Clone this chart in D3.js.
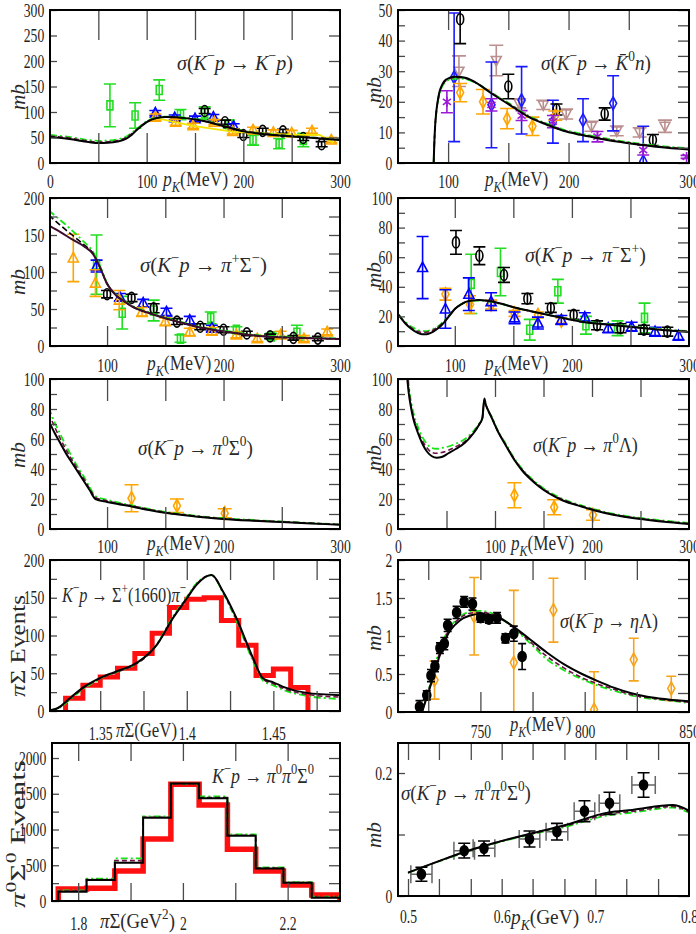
<!DOCTYPE html>
<html><head><meta charset="utf-8">
<script src="https://cdn.jsdelivr.net/npm/d3@7"></script>
<style>
body{margin:0;background:#fff}
svg{display:block}
</style></head><body>
<div id="graph"></div>
<script>
// ---------- data ----------
// panel 1: K-p -> K-p
const p1Black  = [[0,51],[20,47],[40,41],[50,39],[60,39.5],[70,42],[78,47],[85,56],[90,65],[95,73],[100,80],[110,88],[120,90],[140,88],[160,82],[180,72],[200,62],[220,57],[250,52],[280,48],[300,45]]
const p1Dashed = [[0,53],[20,49],[40,43],[50,41],[60,41.5],[70,44],[78,49],[85,58],[90,66],[95,74],[100,81],[110,88],[120,90],[140,88],[160,82],[180,73],[200,63],[220,58],[250,53],[280,49],[300,46]]
const p1Green  = [[0,55],[20,51],[40,45],[50,43.5],[60,44],[70,46.5],[78,51],[85,60],[90,68],[95,75],[100,82],[110,89],[120,91],[140,89],[160,83],[180,73],[200,63],[220,58],[250,53],[280,49],[300,46]]
const p1Yellow = [[110,88],[148,73],[190,61],[230,57],[259,55],[279,55],[293,40]]
const p1Sq     = [[62,113,42],[88,93,25],[113,143,20],[135,95,10],[160,98,12],[185,76,8],[210,45,10],[237,38,10],[262,45,13]]
const p1Tri    = [[109,98,5],[129,89,5],[150,87,5],[169,90,5],[190,72,5]]
const p1Circ   = [[160,102,5],[181,80,4],[200,55,5],[220,63,5],[241,62,4],[262,49,5],[281,37,5]]
const p1OrTri  = [[109,90,6],[130,80,6],[148,73,5],[170,80,5],[189,62,5],[210,65,5],[231,60,5],[250,59,5],[271,63,5],[291,45,5]]

// panel 2: K-p -> K0bar n
const p2Black  = [[88,0],[88.5,6],[89.2,12],[90,16],[91.5,20.5],[93,23.5],[95,25.5],[97,26.8],[101,27.8],[105,28.2],[110,28.1],[115,27.8],[125,25.8],[134,23.3],[151,19],[168,14.8],[182,12.5],[195,10.6],[210,9.2],[223,8.2],[240,7],[256,6.1],[275,5.2],[300,4.4]]
const p2Dashed = [[88,0],[88.5,6],[89.2,12],[90,16],[91.5,20.3],[93,23.2],[95,25.2],[97,26.5],[101,27.5],[105,27.9],[110,27.9],[115,27.6],[125,25.8],[134,23.4],[151,19.2],[168,15],[182,12.7],[195,10.8],[210,9.4],[223,8.4],[240,7.2],[256,6.3],[275,5.4],[300,4.6]]
const p2Green  = [[88,0],[88.5,5.5],[89.2,11.5],[90,15.5],[91.5,20],[93,23],[95,25],[97,26.2],[101,27.2],[105,27.5],[110,27.6],[115,27.4],[125,25.8],[134,23.5],[151,19.4],[168,15.2],[182,12.9],[195,11],[210,9.6],[223,8.6],[240,7.4],[256,6.5],[275,5.6],[300,4.8]]
const p2Circ   = [[110,47,8],[150,25,4],[190,17.5,1.8],[230,16,2],[270,7.5,1.8]]
const p2BlueDi = [[105,28,21],[136,19,14],[161,20.5,11],[187,13.5,7],[212,14,7],[237,19.5,9],[262,0.5,11.5]]
const p2OrDi   = [[110,23,3],[129,20,4],[149,14.5,3.3],[170,12,3],[189,15.5,1.5]]
const p2Star   = [[99,20,3.6],[136,19,2],[161,15.5,1.6],[187,13.5,2],[224,8.6,1.7],[262,4.2,1.6],[298,2,0.5]]
const p2DTri   = [[109,30,5],[140,33.5,5],[159,19.5,1.5],[179,19,1.5],[198,16,1.6],[219,12,1.6],[240,10.5,1.6],[259,10,1.5],[280,12,2]]

// panel 3: K-p -> pi+ Sigma-
const p3Solid  = [[50,163],[60,154],[70,144],[80,135],[88,124],[94,106],[100,84],[108,68],[115,60],[122,53],[137,44],[151,37],[165,31],[180,25],[195,21],[208,18],[222,15],[236,13],[255,11.5],[275,10.5],[300,9.5]]
const p3Dashed = [[50,177],[60,163],[70,150],[80,137],[88,125],[94,106],[100,84],[108,68],[115,60],[122,53],[137,44],[151,37],[165,31],[180,25],[195,21],[208,18],[222,15],[236,13],[255,11.5],[275,10.5],[300,9.5]]
const p3Green  = [[50,183],[60,170],[70,156],[80,141],[88,127],[94,108],[100,85],[108,69],[115,61],[122,54],[137,45],[151,38],[165,32],[180,26],[195,22],[208,19],[222,16],[236,14],[255,12.5],[275,11.2],[300,10.2]]
const p3OrTri  = [[71,119,32],[90,85,18],[110.5,62,13],[130,46,6],[150,33,5],[171,19,5],[190,20,5],[211,15,4],[229,10,4],[249,15,5],[269,10,4],[289,19,4]]
const p3Tri    = [[91,108,8],[111,66,5],[131,58,5],[151,46,5],[171,35,5],[190,24,4]]
const p3Circ   = [[100,70,5],[121,65,5],[140,51,6],[160,33,4],[180,26,4],[200,22,4],[220,17,3],[240,13,3],[260,11,3],[281,10,3]]
const p3Sq     = [[91,110,40],[113,45,22],[140,48,14],[163,10,5],[189,38,8],[211,22,4],[241,13,4],[263,18,10]]

// panel 4: K-p -> pi- Sigma+
const p4Black  = [[52,21],[58,15],[63,11.5],[68,9],[72,8],[76,8],[80,9],[84,11],[88,13.5],[92,17],[96,21],[100,25],[105,28],[110,30],[115,30.8],[120,31],[128,30.5],[140,28.5],[151,26],[165,23.5],[180,21],[195,18.5],[208,16.4],[230,14.5],[251,12.8],[275,11],[300,9.5]]
const p4Dashed = [[52,21],[58,15.5],[63,12.3],[68,10],[72,9.3],[76,9.3],[80,10.2],[84,12],[88,14.3],[92,17.6],[96,21.3],[100,25],[105,28],[110,30],[115,30.8],[120,31],[128,30.5],[140,28.5],[151,26],[165,23.5],[180,21],[195,18.5],[208,16.5],[230,14.6],[251,13],[275,11.2],[300,9.8]]
const p4Green  = [[52,21],[58,16],[63,13],[68,11],[72,10],[76,10],[80,11],[84,12.5],[88,14.8],[92,18],[96,21.5],[100,25],[105,28],[110,29.8],[115,30.5],[120,30.7],[128,30.2],[140,28.3],[151,26],[165,23.5],[180,21],[195,18.7],[208,16.8],[230,15],[251,13.3],[275,11.5],[300,10]]
const p4Tri    = [[72.5,53,21],[92,25,13],[112,35,11],[131,30,6],[151,19,4],[171,15.5,4],[191,17.6,3],[211,19.5,3],[231,12,3],[251,13,3],[271,9.7,3],[291,7,3]]
const p4Circ   = [[101,70,8],[121,61,6],[142,48,5],[162,32,3.5],[182,25.7,3],[201.5,21,3],[221.5,14,3],[241.5,12,3],[261.5,11,3],[281.5,9.7,3]]
const p4Sq     = [[114,42,20],[139,50,16],[164,11,7],[188,37,8],[212,14,6],[239,12,5],[262,19,10]]
const p4OrDi   = [[92,35,4],[113,28,6],[131,28,3],[151,22,2],[171,21,2],[191,17,2]]

// panel 5: K-p -> pi0 Sigma0
const p5Black  = [[50,72],[55,64],[60,57],[65,50],[70,44],[75,38],[80,32],[85,26],[90,20],[100,18],[110,16.5],[122,14.9],[136,12.6],[151,10.6],[165,9.3],[180,8],[199,6.7],[225,5.5],[250,4.6],[275,3.7],[300,2.8]]
const p5Dashed = [[50,77],[55,68],[60,60],[65,52.5],[70,46],[75,39.5],[80,33.5],[85,27],[90,21],[100,18.8],[110,17],[122,15.3],[136,13],[151,11],[165,9.6],[180,8.3],[199,7],[225,5.8],[250,4.8],[275,3.9],[300,3]]
const p5Green  = [[50,81],[55,71],[60,63],[65,55],[70,48],[75,41],[80,35],[85,28],[90,22],[100,19.5],[110,17.5],[122,15.7],[136,13.4],[151,11.3],[165,9.9],[180,8.5],[199,7.2],[225,6],[250,5],[275,4],[300,3.1]]
const p5OrDi   = [[121,20.5,9],[160,15.5,4.5],[201,10.5,3]]

// panel 6: K-p -> pi0 Lambda
const p6Black  = [[9.6,100],[11,91],[13.4,81],[16,73],[20,65],[25,57],[30,51.5],[35,48.5],[40,47.5],[45,48],[52,50.5],[60,53.5],[69,57.5],[78,64],[84,70],[87,74],[89,87],[90.5,83],[93,79],[96,75],[103,65],[110,57],[120,46],[128,39],[137,33],[146,28],[155,24],[170,19],[189,15],[205,12],[223,9.3],[240,7.5],[258,6],[280,4.5],[300,3.4]]
const p6Dashed = [[10,100],[11.5,91],[13.5,82],[16,74.5],[20,66.5],[25,59],[30,54],[35,51],[40,50.5],[45,51],[52,52.5],[60,55],[69,58.5],[78,64.5],[84,70],[87,74],[89,86],[90.5,83],[93,79],[96,75],[103,65],[110,57.3],[120,46.5],[128,39.5],[137,33.5],[146,28.5],[155,24.5],[170,19.5],[189,15.3],[205,12.3],[223,9.6],[240,7.8],[258,6.3],[280,4.8],[300,3.6]]
const p6Green  = [[10.5,100],[12,91],[14,83],[16.5,76],[20,69],[25,61.5],[30,56.5],[35,54],[40,53.5],[45,54],[52,55],[60,57],[69,60],[78,65.5],[84,70.5],[87,74],[89,85],[90.5,82.5],[93,79],[96,75.5],[103,65.5],[110,58],[120,47],[128,40],[137,34],[146,29],[155,25],[170,20],[189,15.8],[205,12.7],[223,10],[240,8.2],[258,6.7],[280,5.2],[300,4]]
const p6OrDi   = [[120,22.5,8.3],[161,14.5,5],[201,9.3,3.5]]

// panel 7: Sigma+(1660) pi- , pi Sigma events
const p7Edges  = [1.330,1.340,1.350,1.360,1.370,1.380,1.390,1.400,1.410,1.420,1.430,1.440,1.450,1.460,1.470]
const p7Hist   = [17,34,45,56.5,76,103,137,148,150,120,87,47,55.6,31]
const p7Black  = [[1.321,1],[1.3256,4],[1.333,18],[1.340,31],[1.345,38],[1.350,44],[1.360,53],[1.369,61],[1.375,70],[1.3825,87],[1.392,123],[1.400,149],[1.4056,167],[1.4143,180],[1.421,158],[1.4287,123],[1.4383,70],[1.4441,43],[1.450,38],[1.4557,32],[1.4692,24],[1.4884,21]]
const p7Dashed = [[1.321,1],[1.3256,4],[1.333,17],[1.340,30],[1.345,37],[1.350,43],[1.360,52],[1.369,60],[1.375,69],[1.3825,87],[1.392,123],[1.400,150],[1.4056,168],[1.4143,180],[1.421,157],[1.4287,121],[1.4383,68],[1.4441,42],[1.450,36],[1.4557,30],[1.4692,22],[1.4884,18.5]]
const p7Green  = [[1.321,1],[1.3256,3],[1.333,16],[1.340,29],[1.345,36],[1.350,43],[1.360,52],[1.369,60],[1.375,70],[1.3825,88],[1.392,125],[1.400,151],[1.4056,169],[1.4143,180],[1.421,156],[1.4287,119],[1.4383,66],[1.4441,40],[1.450,34],[1.4557,28],[1.4692,20],[1.4884,16]]

// panel 8: K-p -> eta Lambda
const p8Black  = [[722,0],[725,0.25],[730,0.7],[734,1.0],[740,1.2],[745,1.27],[750,1.29],[758,1.25],[766,1.12],[774,0.95],[782,0.78],[790,0.63],[798,0.51],[806,0.41],[814,0.32],[822,0.25],[830,0.2],[840,0.165],[850,0.14]]
const p8Dashed = [[722,0],[725,0.27],[730,0.74],[734,1.03],[740,1.23],[745,1.3],[750,1.31],[758,1.26],[766,1.11],[774,0.92],[782,0.73],[790,0.58],[798,0.46],[806,0.37],[814,0.3],[822,0.23],[830,0.19],[840,0.155],[850,0.13]]
const p8Green  = [[722,0],[725,0.28],[730,0.78],[734,1.05],[740,1.25],[745,1.32],[750,1.33],[758,1.27],[766,1.1],[774,0.9],[782,0.69],[790,0.55],[798,0.44],[806,0.35],[814,0.28],[822,0.22],[830,0.18],[840,0.15],[850,0.12]]
const p8Dots   = [[720.8,0.07,0.08],[724.3,0.22,0.06],[726.3,0.48,0.08],[728.2,0.6,0.07],[730.6,0.84,0.07],[732.7,0.9,0.08],[734.3,1.14,0.08],[738.6,1.31,0.08],[742.2,1.45,0.07],[746.2,1.42,0.08],[750.1,1.24,0.06],[754.1,1.22,0.05],[758,1.24,0.07],[762,0.97,0.06],[766,1.03,0.1],[770,0.73,0.17]]
const p8OrDi   = [[728,0.42,0.25],[747,1.26,0.51],[766,0.65,0.95],[785,1.34,0.42],[804.5,0.03,0.5],[823.5,0.69,0.28],[841.5,0.31,0.16]]

// panel 9: pi0 pi0 Sigma0 events
const p9Edges  = [1.762,1.816,1.870,1.924,1.977,2.031,2.085,2.139,2.192,2.246,2.300]
const p9Red    = [168,180,420,867,1632,1343,723,420,224,84]
const p9Black  = [130,294,535,1165,1645,1436,913,456,256,46]
const p9Dashed = [140,300,565,1172,1642,1448,920,462,258,52]
const p9Green  = [150,312,595,1185,1640,1462,932,470,262,60]

// panel 10: sigma(K-p -> pi0 pi0 Sigma0)
const p10Black  = [[0.5,0.038],[0.53,0.055],[0.5607,0.072],[0.5964,0.088],[0.6321,0.102],[0.668,0.1154],[0.7144,0.136],[0.7394,0.14],[0.7823,0.148],[0.8,0.139]]
const p10Dashed = [[0.5,0.038],[0.53,0.055],[0.5607,0.0715],[0.5964,0.0878],[0.6321,0.1012],[0.668,0.1138],[0.7144,0.1335],[0.7394,0.1375],[0.7823,0.1455],[0.8,0.137]]
const p10Green  = [[0.5,0.0375],[0.53,0.0545],[0.5607,0.071],[0.5964,0.0872],[0.6321,0.1003],[0.668,0.1125],[0.7144,0.1315],[0.7394,0.1355],[0.7823,0.1438],[0.8,0.1355]]
// x, y, x-error, y-error
const p10Pts    = [[0.5143,0.0353,0.0113,0.0114],[0.56,0.0737,0.011,0.012],[0.5811,0.0775,0.0116,0.012],[0.6297,0.0927,0.011,0.013],[0.659,0.1046,0.0116,0.0135],[0.6884,0.138,0.011,0.017],[0.7151,0.1507,0.011,0.018],[0.7515,0.1805,0.0125,0.02]]

// ticks
const ticks50 = [50,100,150,200,250]
const ticks100 = [100,150,200,250]
const lab0_300 = [0,100,200,300]
const lab100_300 = [100,200,300]

// ---------- drawing ----------
const W = 696, H = 934
const FONT = '"Liberation Serif", "DejaVu Serif", serif'
const svg = d3.select('#graph').append('svg').attr('width', W).attr('height', H)
svg.append('rect').attr('width', W).attr('height', H).attr('fill', '#fff')

const I = s => ({t: s, i: 1})
const S = s => ({t: s, sup: 1})
const B = s => ({t: s, sub: 1, i: 1})

// text with super/subscripts, squeezed to a target width
const mtext = (parent, x, y, parts, o) => {
    const size = o.size || 22
    const g = parent.append('g')
    const t = g.append('text').attr('font-family', FONT).attr('font-size', size)
        .attr('fill', o.fill || '#2a2a2a').attr('text-anchor', o.anchor || 'start')
    let shift = 0
    parts.forEach(p => {
        if (typeof p === 'string') p = {t: p}
        const want = p.sup ? -0.42 : p.sub ? 0.28 : 0
        const ts = t.append('tspan').text(p.t)
            .attr('font-size', (p.sup || p.sub) ? size * 0.7 : size)
        if (want !== shift) { ts.attr('dy', (want - shift) * size); shift = want }
        if (p.i) ts.attr('font-style', 'italic')
    })
    const w = t.node().getBBox().width
    const sx = o.w ? o.w / w : 0.8
    g.attr('transform', `translate(${x},${y})` + (o.rot ? ' rotate(-90)' : '') + ` scale(${sx},1)`)
    return g
}

const panel = (c) => {
    const x = d3.scaleLinear().domain(c.xd).range([c.l, c.r])
    const y = d3.scaleLinear().domain(c.yd).range([c.b, c.t])
    const id = 'clip' + c.id
    svg.append('clipPath').attr('id', id).append('rect')
        .attr('x', c.l).attr('y', c.t).attr('width', c.r - c.l).attr('height', c.b - c.t)
    const g = svg.append('g')
    const txt = g.append('g')
    const plot = g.append('g').attr('clip-path', `url(#${id})`)
    return {x, y, g, txt, plot, c}
}

const finish = (p) => {
    const {x, y, g, c} = p
    const xl = c.xLen || 20
    const clean = (s) => {
        s.select('.domain').remove()
        s.selectAll('line').attr('stroke', '#4a4a4a').attr('stroke-width', 1.3)
    }
    g.append('g').attr('transform', `translate(0,${c.b})`)
        .call(d3.axisTop(x).tickValues(c.xt).tickSize(xl).tickFormat('')).call(clean)
    g.append('g').attr('transform', `translate(0,${c.t})`)
        .call(d3.axisBottom(x).tickValues(c.xt).tickSize(xl).tickFormat('')).call(clean)
    g.append('g').attr('transform', `translate(${c.l},0)`)
        .call(d3.axisRight(y).tickValues(c.yt).tickSize(7).tickFormat('')).call(clean)
    g.append('g').attr('transform', `translate(${c.r},0)`)
        .call(d3.axisLeft(y).tickValues(c.yt).tickSize(11).tickFormat('')).call(clean)

    const xlab = g.append('g').attr('transform', `translate(0,${c.b})`)
        .call(d3.axisBottom(x).tickValues(c.xlab).tickSize(0).tickFormat(d => String(d)))
    xlab.select('.domain').remove()
    xlab.selectAll('text').attr('y', c.xlOff).attr('dy', 0)
        .attr('font-family', FONT).attr('font-size', 19).attr('fill', '#222')
        .attr('transform', 'scale(0.72,1)')

    const ylab = g.append('g').attr('transform', `translate(${c.l},0)`)
        .call(d3.axisLeft(y).tickValues(c.ylab).tickSize(0).tickPadding(8).tickFormat(d => String(d)))
    ylab.select('.domain').remove()
    ylab.selectAll('text').attr('font-family', FONT).attr('font-size', 19).attr('fill', '#222')
        .attr('transform', 'scale(0.72,1)')

    g.append('rect').attr('x', c.l).attr('y', c.t).attr('width', c.r - c.l).attr('height', c.b - c.t)
        .attr('fill', 'none').attr('stroke', '#000').attr('stroke-width', 2)
}

const STYLE = {
    black: {stroke: '#000', w: 2, dash: null},
    solidM: {stroke: '#3d0c2c', w: 2, dash: null},
    blackDash: {stroke: '#000', w: 1.6, dash: '6,3'},
    dashed: {stroke: '#6e1244', w: 1.6, dash: '5,3'},
    green: {stroke: '#16e616', w: 1.8, dash: '7,3,2,3'}
}

const curve = (p, data, st) => {
    const s = STYLE[st]
    const line = d3.line().x(d => p.x(d[0])).y(d => p.y(d[1])).curve(d3.curveMonotoneX)
    p.plot.append('path').datum(data).attr('d', line).attr('fill', 'none')
        .attr('stroke', s.stroke).attr('stroke-width', s.w).attr('stroke-dasharray', s.dash)
}

const hist = (p, edges, vals, color, width, dash) => {
    const pts = [[edges[0], 0]].concat(vals.map((v, i) => [edges[i], v]))
        .concat([[edges[edges.length - 1], vals[vals.length - 1]], [edges[edges.length - 1], 0]])
    const line = d3.line().x(d => p.x(d[0])).y(d => p.y(d[1])).curve(d3.curveStepAfter)
    p.plot.append('path').datum(pts).attr('d', line).attr('fill', 'none')
        .attr('stroke', color).attr('stroke-width', width).attr('stroke-dasharray', dash || null)
        .attr('stroke-linejoin', 'miter')
}

const shape = (type, px, py) => {
    switch (type) {
        case 'circ': return `M${px},${py - 5.5}A3.5,5.5 0 1,1 ${px},${py + 5.5}A3.5,5.5 0 1,1 ${px},${py - 5.5}Z`
        case 'dot': return `M${px},${py - 5}A4,5 0 1,1 ${px},${py + 5}A4,5 0 1,1 ${px},${py - 5}Z`
        case 'sq': return `M${px - 3},${py - 4.5}h6v9h-6Z`
        case 'tri': return `M${px},${py - 5.5}L${px + 5},${py + 4}L${px - 5},${py + 4}Z`
        case 'dtri': return `M${px},${py + 5.5}L${px + 5},${py - 4}L${px - 5},${py - 4}Z`
        case 'di': return `M${px},${py - 6.5}L${px + 3.5},${py}L${px},${py + 6.5}L${px - 3.5},${py}Z`
        case 'star': return `M${px},${py - 5}V${py + 5}M${px - 4},${py - 3}L${px + 4},${py + 3}M${px - 4},${py + 3}L${px + 4},${py - 3}`
    }
}

const points = (p, data, type, color, cap) => {
    const cw = cap || 6
    const gg = p.plot.append('g').attr('stroke', color).attr('stroke-width', 1.6).attr('fill', 'none')
    gg.selectAll('path.err').data(data).enter().append('path').attr('class', 'err')
        .attr('d', d => {
            const px = p.x(d[0]), y1 = p.y(d[1] + d[2]), y0 = p.y(d[1] - d[2])
            return `M${px},${y0}V${y1}M${px - cw},${y0}H${px + cw}M${px - cw},${y1}H${px + cw}`
        })
    gg.selectAll('path.sym').data(data).enter().append('path').attr('class', 'sym')
        .attr('d', d => shape(type, p.x(d[0]), p.y(d[1])))
        .attr('fill', type === 'dot' ? color : 'none')
}

// ---- panel 1
const P1 = panel({id: 1, l: 50, r: 340, t: 10, b: 163, xd: [0, 300], yd: [0, 300],
    xt: ticks50, xlab: lab0_300, yt: [0,50,100,150,200,250,300], ylab: [0,50,100,150,200,250,300], xlOff: 25, xLen: 30})
points(P1, p1Sq, 'sq', '#22dd22', 6)
points(P1, p1Circ, 'circ', '#000', 6)
points(P1, p1Tri, 'tri', '#0000ff', 6)
points(P1, p1OrTri, 'tri', '#ffa500', 6)
P1.plot.append('path').datum(p1Yellow)
    .attr('d', d3.line().x(d => P1.x(d[0])).y(d => P1.y(d[1])))
    .attr('fill', 'none').attr('stroke', '#f2e600').attr('stroke-width', 1.8)
curve(P1, p1Green, 'green'); curve(P1, p1Dashed, 'dashed'); curve(P1, p1Black, 'black')
mtext(P1.txt, 177, 70, [I('σ'), '(', I('K'), S('−'), I('p'), ' → ', I('K'), S('−'), I('p'), ')'], {w: 116})
finish(P1)
mtext(P1.g, 163, 186, [I('p'), B('K'), '(MeV)'], {w: 67, size: 21})
mtext(P1.g, 25, 97, [I('mb')], {w: 26, rot: 1, anchor: 'middle'})

// ---- panel 2
const P2 = panel({id: 2, l: 398, r: 689, t: 10, b: 163, xd: [58.4, 300], yd: [0, 50],
    xt: ticks100, xlab: lab100_300, yt: [0,5,10,15,20,25,30,35,40,45,50], ylab: [0,10,20,30,40,50], xlOff: 25, xLen: 20})
points(P2, p2DTri, 'dtri', '#bc8f8f', 7)
points(P2, p2BlueDi, 'di', '#1a1aff', 6)
points(P2, p2Circ, 'circ', '#000', 6)
points(P2, p2OrDi, 'di', '#ffa500', 7)
points(P2, p2Star, 'star', '#9a1ad6', 6)
curve(P2, p2Green, 'green'); curve(P2, p2Dashed, 'dashed'); curve(P2, p2Black, 'black')
mtext(P2.txt, 541, 70, [I('σ'), '(', I('K'), S('−'), I('p'), ' → ', I('K\u0304'), S('0'), I('n'), ')'], {w: 110})
finish(P2)
mtext(P2.g, 485, 186, [I('p'), B('K'), '(MeV)'], {w: 65, size: 21})
mtext(P2.g, 381, 90, [I('mb')], {w: 26, rot: 1, anchor: 'middle'})

// ---- panel 3
const P3 = panel({id: 3, l: 50, r: 340, t: 198, b: 346, xd: [51, 300], yd: [0, 200],
    xt: ticks100, xlab: lab100_300, yt: [0,25,50,75,100,125,150,175,200], ylab: [0,50,100,150,200], xlOff: 26, xLen: 20})
points(P3, p3Sq, 'sq', '#22dd22', 6)
points(P3, p3Circ, 'circ', '#000', 6)
points(P3, p3Tri, 'tri', '#0000ff', 6)
points(P3, p3OrTri, 'tri', '#ffa500', 6)
curve(P3, p3Green, 'green'); curve(P3, p3Dashed, 'blackDash'); curve(P3, p3Solid, 'solidM')
mtext(P3.txt, 140, 272, [I('σ'), '(', I('K'), S('−'), I('p'), ' → ', I('π'), S('+'), 'Σ', S('−'), ')'], {w: 127})
finish(P3)
mtext(P3.g, 147, 370, [I('p'), B('K'), '(MeV)'], {w: 66, size: 21})
mtext(P3.g, 25, 282, [I('mb')], {w: 26, rot: 1, anchor: 'middle'})

// ---- panel 4
const P4 = panel({id: 4, l: 398, r: 689, t: 198, b: 346, xd: [51.5, 300], yd: [0, 100],
    xt: ticks100, xlab: lab100_300, yt: [0,10,20,30,40,50,60,70,80,90,100], ylab: [0,20,40,60,80,100], xlOff: 26, xLen: 20})
points(P4, p4Sq, 'sq', '#22dd22', 6)
points(P4, p4Circ, 'circ', '#000', 6)
points(P4, p4OrDi, 'di', '#ffa500', 6)
points(P4, p4Tri, 'tri', '#0000ff', 6)
curve(P4, p4Green, 'green'); curve(P4, p4Dashed, 'dashed'); curve(P4, p4Black, 'black')
mtext(P4.txt, 525, 262, [I('σ'), '(', I('K'), S('−'), I('p'), ' → ', I('π'), S('−'), 'Σ', S('+'), ')'], {w: 121})
finish(P4)
mtext(P4.g, 485, 370, [I('p'), B('K'), '(MeV)'], {w: 65, size: 21})
mtext(P4.g, 381, 275, [I('mb')], {w: 26, rot: 1, anchor: 'middle'})

// ---- panel 5
const P5 = panel({id: 5, l: 50, r: 340, t: 379, b: 529, xd: [51, 300], yd: [0, 100],
    xt: ticks100, xlab: lab100_300, yt: [0,10,20,30,40,50,60,70,80,90,100], ylab: [0,20,40,60,80,100], xlOff: 24, xLen: 22})
points(P5, p5OrDi, 'di', '#ffa500', 7)
curve(P5, p5Green, 'green'); curve(P5, p5Dashed, 'dashed'); curve(P5, p5Black, 'black')
mtext(P5.txt, 138, 455, [I('σ'), '(', I('K'), S('−'), I('p'), ' → ', I('π'), S('0'), 'Σ', S('0'), ')'], {w: 115})
finish(P5)
mtext(P5.g, 147, 550, [I('p'), B('K'), '(MeV)'], {w: 65, size: 21})
mtext(P5.g, 25, 455, [I('mb')], {w: 26, rot: 1, anchor: 'middle'})

// ---- panel 6
const P6 = panel({id: 6, l: 398, r: 689, t: 379, b: 529, xd: [0, 300], yd: [0, 100],
    xt: ticks50, xlab: lab0_300, yt: [0,10,20,30,40,50,60,70,80,90,100], ylab: [0,20,40,60,80,100], xlOff: 24, xLen: 18})
points(P6, p6OrDi, 'di', '#ffa500', 7)
curve(P6, p6Green, 'green'); curve(P6, p6Dashed, 'dashed'); curve(P6, p6Black, 'black')
mtext(P6.txt, 533, 452, [I('σ'), '(', I('K'), S('−'), I('p'), ' → ', I('π'), S('0'), 'Λ)'], {w: 105})
finish(P6)
mtext(P6.g, 511, 550, [I('p'), B('K'), '(MeV)'], {w: 65, size: 21})
mtext(P6.g, 381, 458, [I('mb')], {w: 26, rot: 1, anchor: 'middle'})

// ---- panel 7
const P7 = panel({id: 7, l: 50, r: 340, t: 560, b: 711, xd: [1.321, 1.4885], yd: [0, 200],
    xt: [1.35,1.375,1.4,1.425,1.45,1.475], xlab: [1.35,1.4,1.45], yt: [0,25,50,75,100,125,150,175,200], ylab: [0,50,100,150,200], xlOff: 29, xLen: 20})
mtext(P7.txt, 62, 602, [I('K'), S('−'), I('p'), ' → ', 'Σ', S('+'), '(1660)', I('π'), S('−')], {w: 125})
hist(P7, p7Edges, p7Hist, '#ff1010', 5)
curve(P7, p7Green, 'green'); curve(P7, p7Dashed, 'dashed'); curve(P7, p7Black, 'black')
finish(P7)
mtext(P7.g, 116, 737, [I('π'), 'Σ(GeV)'], {w: 61, size: 21})
mtext(P7.g, 25, 646, [I('π'), 'Σ  Events'], {w: 102, rot: 1, anchor: 'middle'})

// ---- panel 8
const P8 = panel({id: 8, l: 398, r: 689, t: 560, b: 712, xd: [710.5, 850], yd: [0, 2],
    xt: [725,750,775,800,825], xlab: [750,800,850], yt: [0,0.25,0.5,0.75,1,1.25,1.5,1.75,2], ylab: [0,0.5,1,1.5,2], xlOff: 26, xLen: 20})
points(P8, p8OrDi, 'di', '#f7a41d', 5)
curve(P8, p8Green, 'green'); curve(P8, p8Dashed, 'dashed'); curve(P8, p8Black, 'black')
points(P8, p8Dots, 'dot', '#000', 4)
mtext(P8.txt, 560, 628, [I('σ'), '(', I('K'), S('−'), I('p'), ' → ', I('η'), 'Λ)'], {w: 98})
finish(P8)
mtext(P8.g, 510, 731, [I('p'), B('K'), '(MeV)'], {w: 63, size: 21})
mtext(P8.g, 381, 638, [I('mb')], {w: 26, rot: 1, anchor: 'middle'})

// ---- panel 9
const P9 = panel({id: 9, l: 52, r: 340, t: 743, b: 901, xd: [1.75, 2.3], yd: [0, 2210],
    xt: [1.8,1.9,2,2.1,2.2], xlab: [1.8,2,2.2], yt: [0,250,500,750,1000,1250,1500,1750,2000], ylab: [0,500,1000,1500,2000], xlOff: 29, xLen: 18})
hist(P9, p9Edges, p9Red, '#ff1010', 5.5)
hist(P9, p9Edges, p9Green, '#16e616', 1.8, '7,3,2,3')
hist(P9, p9Edges, p9Dashed, '#6e1244', 1.6, '5,3')
hist(P9, p9Edges, p9Black, '#000', 2)
mtext(P9.txt, 212, 783, [I('K'), S('−'), I('p'), ' → ', I('π'), S('0'), I('π'), S('0'), 'Σ', S('0')], {w: 103})
finish(P9)
mtext(P9.g, 100, 928, [I('π'), 'Σ(GeV', S('2'), ')'], {w: 75, size: 21})
mtext(P9.g, 25, 834, [I('π'), S('0'), 'Σ', S('0'), ' Events'], {w: 148, rot: 1, anchor: 'middle'})

// ---- panel 10
const P10 = panel({id: 10, l: 398, r: 689, t: 743, b: 896, xd: [0.4893, 0.8], yd: [0, 0.2488],
    xt: [0.5,0.533,0.567,0.6,0.633,0.667,0.7,0.733,0.767], xlab: [0.5,0.6,0.7,0.8], yt: [0,0.1,0.2], ylab: [0,0.2], xlOff: 27, xLen: 17})
const xe = P10.plot.append('g').attr('stroke', '#666').attr('stroke-width', 1.5).attr('fill', 'none')
xe.selectAll('path').data(p10Pts).enter().append('path')
    .attr('d', d => {
        const x0 = P10.x(d[0] - d[2]), x1 = P10.x(d[0] + d[2]), py = P10.y(d[1])
        return `M${x0},${py}H${x1}M${x0},${py - 9}V${py + 9}M${x1},${py - 9}V${py + 9}`
    })
curve(P10, p10Green, 'green'); curve(P10, p10Dashed, 'dashed'); curve(P10, p10Black, 'black')
points(P10, p10Pts.map(d => [d[0], d[1], d[3]]), 'dot', '#000', 6)
mtext(P10.txt, 401, 800, [I('σ'), '(', I('K'), S('−'), I('p'), ' → ', I('π'), S('0'), I('π'), S('0'), 'Σ', S('0'), ')'], {w: 130})
finish(P10)
mtext(P10.g, 511, 924, [I('p'), B('K'), '(GeV)'], {w: 70, size: 21})
mtext(P10.g, 381, 835, [I('mb')], {w: 26, rot: 1, anchor: 'middle'})
</script>
</body></html>
